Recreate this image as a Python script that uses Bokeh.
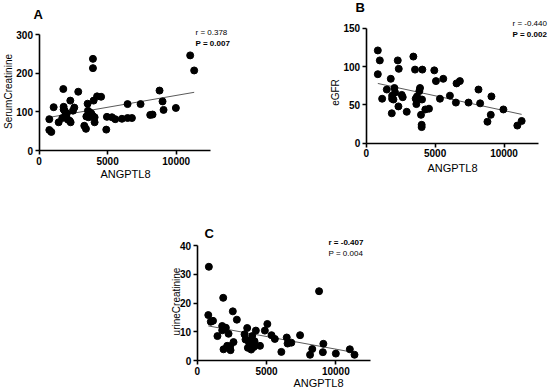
import numpy as np
from bokeh.plotting import figure
from bokeh.models import Range1d, FixedTicker, Label, Spacer
from bokeh.layouts import column, row
from bokeh.embed import file_html
from bokeh.resources import INLINE

# ---------------- data ----------------
x_ticks = [0, 5000, 10000]
x_max = 12500

# Panel A: ANGPTL8 vs Serum Creatinine
a_x = [752, 752, 898, 1068, 1432, 1700, 1772, 1796, 1796, 1870, 1942, 1942, 2020, 2100,
       2233, 2306, 2282, 2476, 2573, 2860, 3301, 3422, 3450, 3544, 3568, 3617, 3690, 3811,
       3908, 3932, 3932, 3981, 4054, 4054, 4234, 4526, 4903, 4950, 5316, 5558, 6044, 6456,
       6456, 6772, 7403, 8107, 8277, 8786, 9005, 9078, 9976, 11019, 11311]
a_y = [81, 53, 48, 112, 73, 84, 159, 113, 106, 103, 98, 88, 95, 80,
       77, 73, 129, 103, 111, 152, 64, 56, 88, 121, 103, 86, 99, 96,
       90, 237, 213, 129, 73, 86, 140, 139, 54, 87, 86, 81, 82, 120,
       84, 84, 120, 92, 93, 155, 127, 105, 110, 246, 207]
a_yticks = [0, 100, 200, 300]
a_stats = ["r = 0.378", "P = 0.007"]

# Panel B: ANGPTL8 vs eGFR
b_x = [843, 988, 843, 1157, 1494, 1783, 1856, 1880, 1880, 1976, 2048, 2097, 2290, 2362,
       2338, 2579, 2650, 2940, 3422, 3543, 3591, 3640, 3687, 3856, 3904, 4049, 4072, 3976,
       4024, 4024, 4290, 4555, 4940, 5060, 5350, 5591, 6073, 6507, 6555, 6796, 7422, 8146,
       8266, 8796, 9037, 9085, 9953, 10965, 11278]
b_y = [121, 108, 90, 58, 70, 84, 39, 62, 58, 57, 72, 66, 108, 97,
       48, 63, 60, 41, 113, 96, 58, 51, 61, 68, 72, 57, 96, 37,
       24, 21, 44, 45, 95, 81, 58, 84, 62, 53, 78, 81, 53, 70,
       52, 28, 37, 61, 44, 23, 29]
b_yticks = [0, 50, 100, 150]
b_stats = ["r = -0.440", "P = 0.002"]

# Panel C: ANGPTL8 vs urine Creatinine
c_x = [841, 800, 980, 1140, 1460, 1803, 1803, 1899, 1876, 2067, 2164, 2260, 2380, 2404,
       2620, 2569, 2860, 3414, 3486, 3606, 3654, 3702, 3774, 3894, 3967, 4015, 4087, 4135,
       4230, 4530, 4880, 5060, 5360, 5600, 6070, 6460, 6520, 6790, 7420, 8140, 8300, 8790,
       9063, 9100, 10000, 11010, 11347]
c_y = [32.6, 15.8, 13.5, 13.8, 8.5, 12.0, 10.5, 3.9, 21.8, 11.4, 5.1, 9.3, 5.0, 3.6,
       6.4, 17.1, 14.2, 9.1, 7.3, 11.3, 4.4, 6.7, 5.3, 3.8, 8.5, 5.8, 4.7, 6.7,
       10.4, 5.1, 10.4, 12.7, 8.8, 7.5, 3.0, 8.0, 5.9, 6.2, 8.8, 2.0, 4.0, 24.1,
       2.9, 5.8, 2.4, 3.9, 2.0]
c_yticks = [0, 10, 20, 30, 40]
c_stats = ["r = -0.407", "P = 0.004"]

FONT = "Liberation Sans"


def make_panel(g, xs, ys, yticks, letter, ylabel, stats, stats_bold):
    # g: figure box on the page and the page pixels where the axes start / end
    y0, y1 = yticks[0], yticks[-1]
    sx = x_max / (g["ax_r"] - g["ax_l"])           # data units per px (x)
    sy = (y1 - y0) / (g["ax_b"] - g["ax_t"])       # data units per px (y)
    xr0 = -(g["ax_l"] - g["x"]) * sx
    xr1 = xr0 + g["w"] * sx
    yr0 = y0 - (g["y"] + g["h"] - g["ax_b"]) * sy
    yr1 = yr0 + g["h"] * sy

    p = figure(width=g["w"], height=g["h"], output_backend="svg", toolbar_location=None,
               x_range=Range1d(xr0, xr1), y_range=Range1d(yr0, yr1),
               min_border=0, min_border_left=0, min_border_right=0,
               min_border_top=0, min_border_bottom=0)
    p.outline_line_color = None
    p.grid.visible = False
    p.background_fill_color = "white"
    p.border_fill_color = "white"
    for ax in (p.xaxis[0], p.yaxis[0]):
        ax.fixed_location = 0
        ax.axis_line_color = "black"
        ax.axis_line_width = 1.6
        ax.major_tick_line_color = "black"
        ax.major_tick_line_width = 1.6
        ax.major_tick_out = 4
        ax.major_tick_in = 0
        ax.minor_tick_line_color = None
        ax.major_label_text_font = FONT
        ax.major_label_text_font_style = "bold"
        ax.major_label_text_font_size = "10px"
        ax.major_label_text_color = "black"
        ax.major_label_standoff = 2
    p.xaxis[0].ticker = FixedTicker(ticks=x_ticks)
    p.xaxis[0].bounds = (0, x_max)
    p.yaxis[0].ticker = FixedTicker(ticks=yticks)
    p.yaxis[0].bounds = (y0, y1)

    # regression line fitted from the data
    slope, icpt = np.polyfit(xs, ys, 1)
    fx = [min(xs), max(xs)]
    fy = [slope * v + icpt for v in fx]
    p.line(fx, fy, line_color="#5a5a5a", line_width=1)
    p.scatter(xs, ys, size=7, fill_color="black", line_color="black")

    def pd(px, py):
        return (xr0 + (px - g["x"]) * sx, yr1 - (py - g["y"]) * sy)

    def lab(px, py, text, size, style="normal", align="left", angle=0.0):
        dx, dy = pd(px, py)
        p.add_layout(Label(x=dx, y=dy, text=text, text_font=FONT, text_font_size=size,
                           text_font_style=style, text_align=align, text_baseline="middle",
                           angle=angle, text_color="black"))

    lab(*g["letter"], letter, "13px", "bold")
    lab(*g["ylab"], ylabel, g["ylab_size"], "normal", "center", np.pi / 2)
    lab(*g["xlab"], "ANGPTL8", "11px", "normal", "center")
    lab(g["stats"][0], g["stats"][1], stats[0], "8px", "bold" if stats_bold[0] else "normal")
    lab(g["stats"][0], g["stats"][1] + 11, stats[1], "8px", "bold" if stats_bold[1] else "normal")
    return p


gA = dict(x=0, y=0, w=278, h=190, ax_l=38.5, ax_r=210, ax_t=34, ax_b=150,
          letter=(33, 14), ylab=(8, 91), ylab_size="10px", xlab=(125, 173), stats=(195, 32))
gB = dict(x=278, y=0, w=272, h=190, ax_l=365.7, ax_r=538, ax_t=27.7, ax_b=142.7,
          letter=(355, 7), ylab=(335, 92), ylab_size="10px", xlab=(452, 167), stats=(512, 23))
gC = dict(x=140, y=190, w=260, h=202, ax_l=196.7, ax_r=370, ax_t=245, ax_b=360,
          letter=(204, 233), ylab=(176, 301), ylab_size="10px", xlab=(318, 382), stats=(328, 242))

pA = make_panel(gA, a_x, a_y, a_yticks, "A", "SerumCreatinine", a_stats, (False, True))
pB = make_panel(gB, b_x, b_y, b_yticks, "B", "eGFR", b_stats, (False, True))
pC = make_panel(gC, c_x, c_y, c_yticks, "C", "urineCreatinine", c_stats, (True, False))

layout = column(row(pA, pB), row(Spacer(width=140, height=202), pC))
open("out.html", "w").write(file_html(layout, INLINE))
